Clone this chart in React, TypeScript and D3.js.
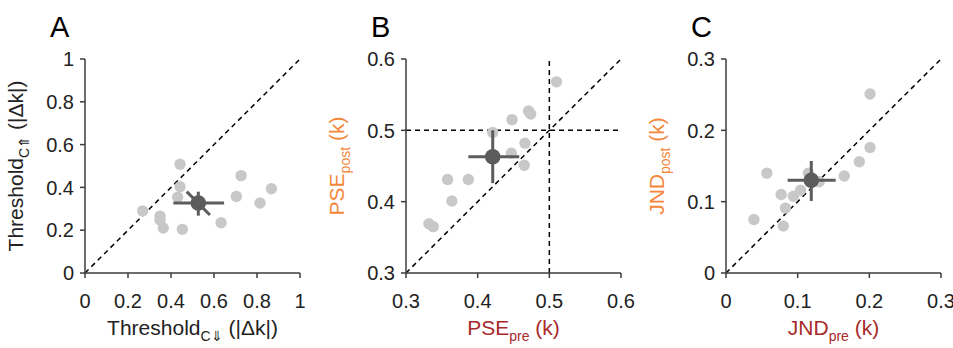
import React from "react";
import * as d3 from "d3";

// Panel A data
const aX = [0.442, 0.442, 0.431, 0.268, 0.349, 0.349, 0.364, 0.453, 0.633, 0.726, 0.704, 0.814, 0.867];
const aY = [0.508, 0.403, 0.354, 0.29, 0.266, 0.248, 0.21, 0.204, 0.235, 0.455, 0.358, 0.327, 0.394];
const aMean = [0.527, 0.327];
const aErrX = [0.411, 0.647];
const aErrY = [0.268, 0.38];
const aErrDiag = [[0.473, 0.38], [0.581, 0.271]];
const aTicks = [0, 0.2, 0.4, 0.6, 0.8, 1];

// Panel B data
const bX = [0.51, 0.471, 0.474, 0.448, 0.421, 0.466, 0.447, 0.465, 0.358, 0.387, 0.364, 0.332, 0.338];
const bY = [0.568, 0.527, 0.523, 0.515, 0.497, 0.482, 0.468, 0.451, 0.431, 0.431, 0.401, 0.369, 0.365];
const bMean = [0.421, 0.463];
const bErrX = [0.387, 0.458];
const bErrY = [0.426, 0.5];
const bTicks = [0.3, 0.4, 0.5, 0.6];

// Panel C data
const cX = [0.201, 0.201, 0.186, 0.165, 0.057, 0.13, 0.115, 0.104, 0.094, 0.077, 0.083, 0.08, 0.039];
const cY = [0.251, 0.176, 0.156, 0.136, 0.14, 0.128, 0.14, 0.116, 0.1075, 0.11, 0.091, 0.066, 0.075];
const cMean = [0.119, 0.13];
const cErrX = [0.086, 0.153];
const cErrY = [0.101, 0.157];
const cTicks = [0, 0.1, 0.2, 0.3];

const ORANGE = "#F5873A";
const DARKRED = "#A82A2A";
const FONT = "'Liberation Sans', Arial, sans-serif";
const TOP = 59;
const BOTTOM = 273;
const W = 215;

type PanelProps = {
  left: number;
  letter: string;
  domain: [number, number];
  ticks: number[];
  fmt: (v: number) => string;
  xs: number[];
  ys: number[];
  mean: number[];
  errX: number[];
  errY: number[];
  diag?: number[][];
  crossAt?: number;
  xLabel: { main: string; sub: string; rest: string; color: string };
  yLabel: { main: string; sub: string; rest: string; color: string };
};

function Panel(p: PanelProps) {
  const x = d3.scaleLinear().domain(p.domain).range([p.left, p.left + W]);
  const y = d3.scaleLinear().domain(p.domain).range([BOTTOM, TOP]);
  const [d0, d1] = p.domain;
  const axisColor = "#3d3d3d";
  const dash = "5,4";
  const midX = (p.left + p.left + W) / 2;
  const midY = (TOP + BOTTOM) / 2;
  const markColor = "#5c5c5c";
  return (
    <g>
      <text x={p.left - 35} y={37} fontSize={29} fontFamily={FONT} fill="#000">
        {p.letter}
      </text>
      {/* reference lines */}
      <line x1={x(d0)} y1={y(d0)} x2={x(d1)} y2={y(d1)} stroke="#000" strokeWidth={1.5} strokeDasharray={dash} />
      {p.crossAt !== undefined && (
        <g>
          <line x1={x(d0)} y1={y(p.crossAt)} x2={x(d1)} y2={y(p.crossAt)} stroke="#000" strokeWidth={1.5} strokeDasharray={dash} />
          <line x1={x(p.crossAt)} y1={y(d0)} x2={x(p.crossAt)} y2={y(d1)} stroke="#000" strokeWidth={1.5} strokeDasharray={dash} />
        </g>
      )}
      {/* points */}
      {p.xs.map((v, i) => (
        <circle key={i} cx={x(v)} cy={y(p.ys[i])} r={5.7} fill="#c8c8c8" />
      ))}
      {/* mean with error bars */}
      <line x1={x(p.errX[0])} y1={y(p.mean[1])} x2={x(p.errX[1])} y2={y(p.mean[1])} stroke={markColor} strokeWidth={3} />
      <line x1={x(p.mean[0])} y1={y(p.errY[0])} x2={x(p.mean[0])} y2={y(p.errY[1])} stroke={markColor} strokeWidth={3} />
      {p.diag && (
        <line x1={x(p.diag[0][0])} y1={y(p.diag[0][1])} x2={x(p.diag[1][0])} y2={y(p.diag[1][1])} stroke={markColor} strokeWidth={3} />
      )}
      <circle cx={x(p.mean[0])} cy={y(p.mean[1])} r={7.8} fill={markColor} />
      {/* axes */}
      <line x1={p.left} y1={TOP} x2={p.left} y2={BOTTOM} stroke={axisColor} strokeWidth={1.5} />
      <line x1={p.left} y1={BOTTOM} x2={p.left + W} y2={BOTTOM} stroke={axisColor} strokeWidth={1.5} />
      {p.ticks.map((t, i) => (
        <g key={"t" + i}>
          <line x1={p.left - 5} y1={y(t)} x2={p.left} y2={y(t)} stroke={axisColor} strokeWidth={1.5} />
          <line x1={x(t)} y1={BOTTOM} x2={x(t)} y2={BOTTOM + 5} stroke={axisColor} strokeWidth={1.5} />
          <text x={p.left - 11} y={y(t)} dy="0.36em" textAnchor="end" fontSize={20} fontFamily={FONT} fill="#222">
            {p.fmt(t)}
          </text>
          <text x={x(t)} y={308} textAnchor="middle" fontSize={20} fontFamily={FONT} fill="#222">
            {p.fmt(t)}
          </text>
        </g>
      ))}
      {/* x label */}
      <text x={midX} y={335} textAnchor="middle" fontSize={21} fontFamily={FONT} fill={p.xLabel.color}>
        {p.xLabel.main}
        <tspan fontSize={14} dy={6}>{p.xLabel.sub}</tspan>
        <tspan dy={-6}>{" " + p.xLabel.rest}</tspan>
      </text>
      {/* y label */}
      <text
        transform={`translate(${p.left - 62},${midY}) rotate(-90)`}
        textAnchor="middle"
        fontSize={21}
        fontFamily={FONT}
        fill={p.yLabel.color}
      >
        {p.yLabel.main}
        <tspan fontSize={14} dy={6}>{p.yLabel.sub}</tspan>
        <tspan dy={-6}>{" " + p.yLabel.rest}</tspan>
      </text>
    </g>
  );
}

const fmtA = (v: number) => (v === 0 ? "0" : v === 1 ? "1" : d3.format(".1f")(v));
const fmtB = (v: number) => d3.format(".1f")(v);
const fmtC = (v: number) => (v === 0 ? "0" : d3.format(".1f")(v));

export default function App() {
  return (
    <svg
      width={953}
      height={348}
      style={{ position: "absolute", left: 0, top: 0, background: "#fff" }}
    >
      <rect width={953} height={348} fill="#fff" />
      <Panel
        left={85}
        letter="A"
        domain={[0, 1]}
        ticks={aTicks}
        fmt={fmtA}
        xs={aX}
        ys={aY}
        mean={aMean}
        errX={aErrX}
        errY={aErrY}
        diag={aErrDiag}
        xLabel={{ main: "Threshold", sub: "C⇓", rest: "(|Δk|)", color: "#222" }}
        yLabel={{ main: "Threshold", sub: "C⇑", rest: "(|Δk|)", color: "#222" }}
      />
      <Panel
        left={406}
        letter="B"
        domain={[0.3, 0.6]}
        ticks={bTicks}
        fmt={fmtB}
        xs={bX}
        ys={bY}
        mean={bMean}
        errX={bErrX}
        errY={bErrY}
        crossAt={0.5}
        xLabel={{ main: "PSE", sub: "pre", rest: "(k)", color: DARKRED }}
        yLabel={{ main: "PSE", sub: "post", rest: "(k)", color: ORANGE }}
      />
      <Panel
        left={726}
        letter="C"
        domain={[0, 0.3]}
        ticks={cTicks}
        fmt={fmtC}
        xs={cX}
        ys={cY}
        mean={cMean}
        errX={cErrX}
        errY={cErrY}
        xLabel={{ main: "JND", sub: "pre", rest: "(k)", color: DARKRED }}
        yLabel={{ main: "JND", sub: "post", rest: "(k)", color: ORANGE }}
      />
    </svg>
  );
}
